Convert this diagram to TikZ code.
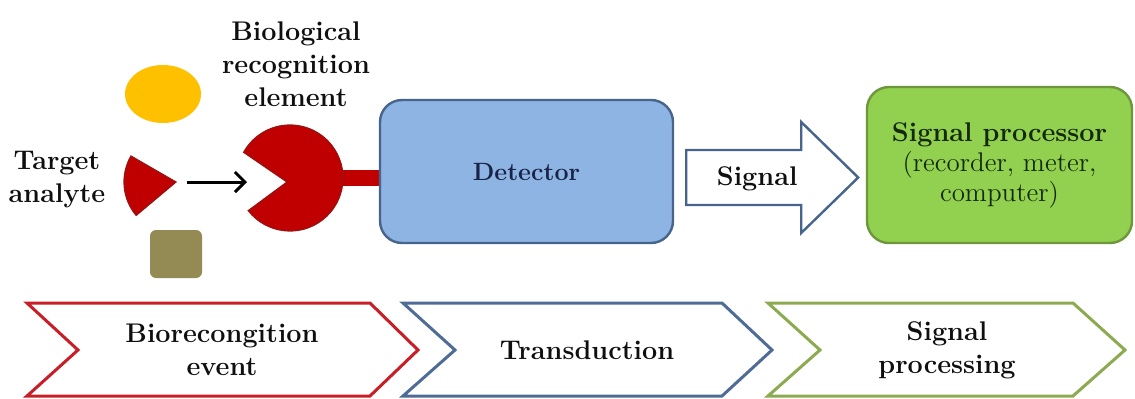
\documentclass[tikz,border=0pt]{standalone}
\usepackage{tikz}
\usetikzlibrary{arrows.meta, positioning, calc}

\definecolor{recred}{RGB}{192,0,0}
\definecolor{recdark}{RGB}{150,20,20}
\definecolor{analyteyellow}{RGB}{255,192,0}
\definecolor{analyteolive}{RGB}{148,138,84}
\definecolor{detblue}{RGB}{141,180,226}
\definecolor{detborder}{RGB}{70,100,140}
\definecolor{detnavy}{RGB}{25,35,70}
\definecolor{procgreen}{RGB}{146,208,80}
\definecolor{procborder}{RGB}{110,150,60}
\definecolor{proctext}{RGB}{20,40,10}
\definecolor{stagered}{RGB}{200,30,40}
\definecolor{stageblue}{RGB}{79,108,150}
\definecolor{stagegreen}{RGB}{140,170,80}
\definecolor{textblack}{RGB}{15,15,15}

\begin{document}
\begin{tikzpicture}[x=0.5pt, y=0.5pt,
    lbl/.style={font=\fontsize{13.5}{16.5}\selectfont\bfseries, align=center, text=textblack},
    box/.style={draw, rounded corners=11pt, line width=1.2pt, inner sep=0pt},
    chevron/.style={line width=1.5pt, line join=miter},
    blob/.style={fill=recred, draw=recdark, line width=0.6pt}]
    \useasboundingbox (0,0) rectangle (1135,398);

    % target analytes
    \fill[analyteyellow] (163,304) ellipse [x radius=38, y radius=29];
    \coordinate (analyte) at (176,216);
    \draw[blob] (analyte) -- ++(150:52) arc[start angle=150, end angle=220, radius=52] -- cycle;
    \fill[analyteolive, rounded corners=3pt] (150,120) rectangle (202,168);
    \node[lbl] (target) at (57,218) {Target\\analyte};

    % recognition element with its stem
    \coordinate (mouth) at (287,216);
    \fill[recred] (335,212) rectangle (381,228);
    \draw[blob] (mouth) -- ($(290,220)+(218:53)$) arc[start angle=218, end angle=511, radius=53] -- cycle;
    \node[lbl] (bio) at (296,334) {Biological\\recognition\\element};
    \draw[-{Straight Barb[length=5pt, width=10pt]}, line width=1.5pt, shorten <=5.5pt, shorten >=20pt] (analyte) -- (mouth);

    % detector and processor
    \node[box, fill=detblue, draw=detborder, minimum width=146.5pt, minimum height=71.5pt,
        font=\fontsize{12.5}{15}\selectfont\bfseries, text=detnavy] (det) at (526.5,226.5) {Detector};
    \node[box, fill=procgreen, draw=procborder, minimum width=132.5pt, minimum height=78pt,
        font=\fontsize{13.5}{15}\selectfont, text=proctext, align=center] (proc) at (999.5,233)
        {\textbf{Signal processor}\\(recorder, meter,\\computer)};

    % signal arrow
    \coordinate (sigtail) at ([xshift=6pt, yshift=-3pt]det.east);
    \draw[detborder, fill=white, line width=1.2pt, line join=miter] (sigtail) ++(0,27.5) -- ++(115,0) -- ++(0,28)
        -- ++(57,-55.5) -- ++(-57,-55.5) -- ++(0,28) -- ++(-115,0) -- cycle;
    \node[lbl] (sig) at ([xshift=35.5pt, yshift=-0.75pt]sigtail) {Signal};

    % stages
    \foreach \l/\n/\r/\t/\c in {27/78/370/418/stagered, 403/455/722/772/stageblue, 768/820/1073/1125/stagegreen} {
        \draw[chevron, draw=\c] (\l,95) -- (\r,95) -- (\t,48) -- (\r,2) -- (\l,2) -- (\n,48) -- cycle;
    }
    \node[lbl] (stage1) at (222,48) {Biorecongition\\event};
    \node[lbl] (stage2) at (587,48) {Transduction};
    \node[lbl] (stage3) at (947,48) {Signal\\processing};
\end{tikzpicture}
\end{document}
